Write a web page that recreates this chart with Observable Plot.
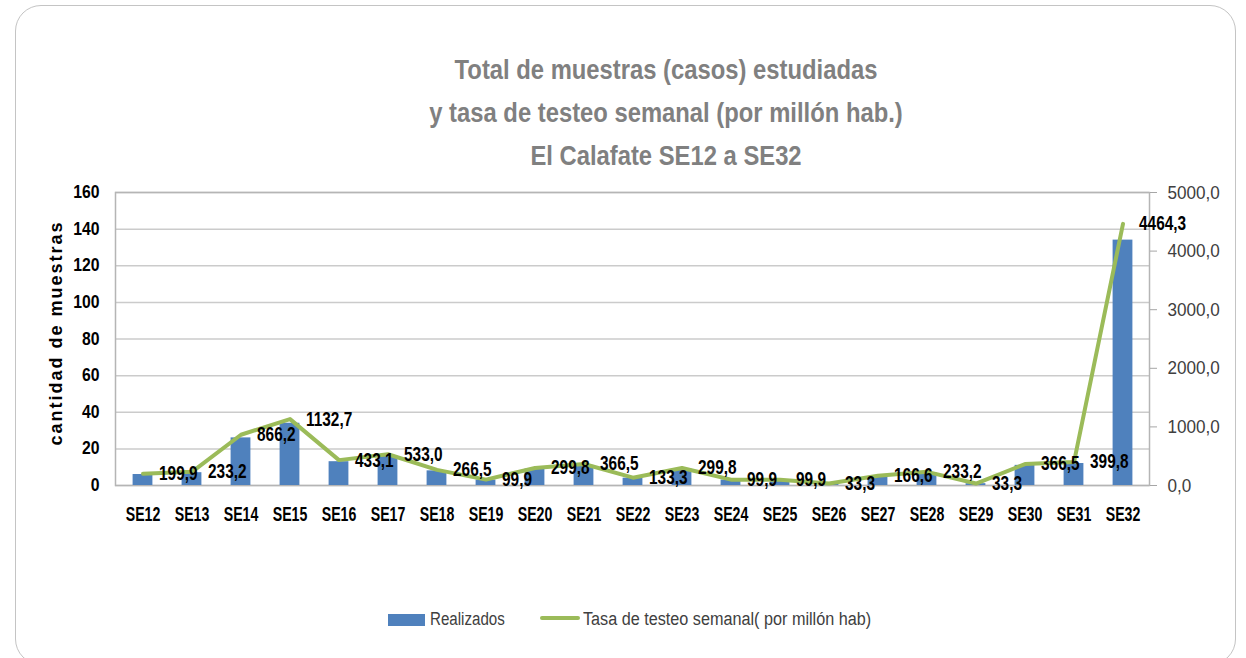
<!DOCTYPE html>
<html>
<head>
<meta charset="utf-8">
<script src="https://cdn.jsdelivr.net/npm/d3@7"></script>
<script src="https://cdn.jsdelivr.net/npm/@observablehq/plot@0.6"></script>
<style>
  html, body { margin: 0; padding: 0; background: #fff; }
  body { width: 1246px; height: 658px; position: relative; overflow: hidden;
         font-family: "Liberation Sans", Arial, sans-serif; }
  #frame { position: absolute; left: 15px; top: 5px; width: 1221px; height: 660px;
           border: 1.5px solid #c4c4c4; border-radius: 26px; box-sizing: border-box; }
  .title { position: absolute; left: 0; width: 1332px; text-align: center; font-weight: bold;
           font-size: 28px; color: #808080; transform: scaleX(0.85); transform-origin: 666px 50%; white-space: nowrap; }
  #chart { position: absolute; left: 0; top: 175px; }
  #ytitle { position: absolute; left: 56px; top: 333px; transform: translate(-50%, -50%) rotate(-90deg);
            font-weight: bold; font-size: 18px; letter-spacing: 2px; white-space: nowrap; color: #000; }
  .leg { position: absolute; top: 609px; font-size: 18px; color: #404040; white-space: nowrap; }
  .leg .t { display: inline-block; transform: scaleX(0.84); transform-origin: 0 50%; }
</style>
</head>
<body>
<div id="frame"></div>
<div class="title" style="top:54px">Total de muestras (casos) estudiadas</div>
<div class="title" style="top:97px">y tasa de testeo semanal (por millón hab.)</div>
<div class="title" style="top:140px">El Calafate SE12 a SE32</div>
<div id="chart"></div>
<div id="ytitle">cantidad de muestras</div>
<div class="leg" style="left:388px;"><span style="display:inline-block;width:37px;height:12px;background:#4f81bd;vertical-align:-1px;margin-right:5px"></span><span class="t">Realizados</span></div>
<div class="leg" style="left:540px;"><span style="display:inline-block;width:40px;height:4px;background:#9bbb59;vertical-align:5px;margin-right:3px;border-radius:2px"></span><span class="t" style="transform:scaleX(0.9)">Tasa de testeo semanal( por millón hab)</span></div>
<script>
const weeks = ["SE12","SE13","SE14","SE15","SE16","SE17","SE18","SE19","SE20","SE21","SE22","SE23","SE24","SE25","SE26","SE27","SE28","SE29","SE30","SE31","SE32"];
const realizados = [6,7,26,34,13,16,8,3,9,11,4,9,3,3,1,5,7,1,11,12,134];
const tasa = [199.9,233.2,866.2,1132.7,433.1,533.0,266.5,99.9,299.8,366.5,133.3,299.8,99.9,99.9,33.3,166.6,233.2,33.3,366.5,399.8,4464.3];
const leftTicks = [0,20,40,60,80,100,120,140,160];
const rightTicks = [0,1000,2000,3000,4000,5000];
const leftMax = 160, rightMax = 5000;
const k = leftMax / rightMax;

const data = weeks.map((w, i) => ({week: w, n: realizados[i], rate: tasa[i]}));
const fmt = v => v.toFixed(1).replace(".", ",");

const plot = Plot.plot({
  width: 1246,
  height: 370,
  marginTop: 17,
  marginBottom: 60,
  marginLeft: 115,
  marginRight: 97,
  style: {fontFamily: '"Liberation Sans", Arial, sans-serif', background: "transparent", color: "#000"},
  x: {domain: weeks, padding: 0, label: null},
  y: {domain: [0, leftMax], label: null},
  marks: [
    Plot.gridY(leftTicks, {stroke: "#cbcbcb", strokeOpacity: 1, strokeWidth: 1.5}),
    Plot.frame({stroke: "#b5b5b5", strokeWidth: 1.5}),
    Plot.barY(data, {x: "week", y: "n", fill: "#4f81bd", insetLeft: 14.6, insetRight: 14.6}),
    Plot.axisY({anchor: "left", ticks: leftTicks, tickSize: 0, tickPadding: 16, fontSize: 17.5, fontWeight: "bold", label: null}),
    Plot.axisY({anchor: "right", ticks: rightTicks.map(v => v * k), tickFormat: v => fmt(v / k), tickSize: 7, tickPadding: 11, fontSize: 19, fill: "#404040", stroke: "#a6a6a6", label: null}),
    Plot.axisX({tickSize: 0, tickPadding: 21, fontSize: 20.5, fontWeight: "bold", label: null}),
    Plot.line(data, {x: "week", y: d => d.rate * k, stroke: "#9bbb59", strokeWidth: 4, strokeLinejoin: "round"}),
    Plot.text(data, {x: "week", y: d => d.rate * k, text: d => fmt(d.rate), textAnchor: "start", dx: 16, fontSize: 20, fontWeight: "bold", fill: "#000"})
  ]
});
document.getElementById("chart").appendChild(plot);

// condense glyphs to match the narrow typeface of the original
function condense(sel, f) {
  plot.querySelectorAll(sel).forEach(t => {
    const w = t.getComputedTextLength();
    if (w > 0) { t.setAttribute("textLength", w * f); t.setAttribute("lengthAdjust", "spacingAndGlyphs"); }
  });
}
condense('g[aria-label="y-axis tick label"] text', 0.9);
condense('g[aria-label="x-axis tick label"] text', 0.69);
condense('g[aria-label="text"] text', 0.77);
</script>
</body>
</html>
